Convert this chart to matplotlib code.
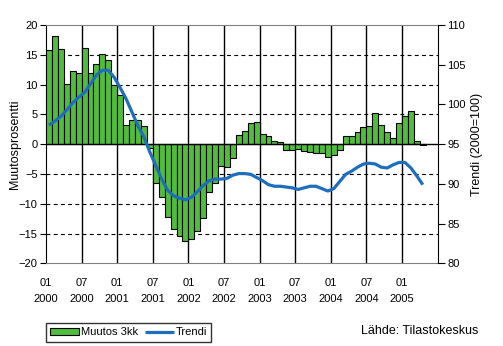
import matplotlib
matplotlib.use("Agg")
import matplotlib.pyplot as plt
import numpy as np

plt.rcParams['font.family'] = ['Liberation Sans', 'DejaVu Sans']

# monthly data 2000-01 .. 2005-04
muutos = [15.8, 18.2, 15.9, 10.1, 12.3, 11.9, 16.1, 11.9, 13.4, 15.1, 14.1, 9.9,
          8.3, 3.3, 4.1, 4.1, 3.1, -0.7, -6.5, -8.9, -12.3, -14.2, -15.4, -16.2,
          -15.9, -14.5, -12.4, -8.0, -6.6, -3.6, -3.8, -2.3, 1.6, 2.2, 3.5, 3.8,
          1.7, 1.4, 0.5, 0.3, -1.0, -1.0, -0.8, -1.2, -1.3, -1.5, -1.5, -2.2,
          -1.8, -1.0, 1.3, 1.3, 2.1, 2.8, 3.1, 5.3, 3.3, 2.0, 1.1, 3.5,
          4.7, 5.5, 0.5, -0.2]
trendi = [97.4, 97.9, 98.5, 99.3, 100.2, 100.9, 101.5, 102.6, 103.7, 104.3, 104.3, 103.4,
          102.1, 100.7, 99.0, 97.3, 95.9, 94.0, 92.3, 90.6, 89.2, 88.5, 88.2, 88.0,
          88.3, 89.0, 89.8, 90.4, 90.6, 90.6, 90.7, 91.1, 91.3, 91.3, 91.2, 90.8,
          90.4, 89.9, 89.7, 89.7, 89.6, 89.5, 89.3, 89.5, 89.7, 89.7, 89.4, 89.1,
          89.4, 90.3, 91.2, 91.6, 92.1, 92.5, 92.6, 92.5, 92.1, 92.0, 92.4, 92.7,
          92.7, 92.0, 91.0, 89.9]
tick_labels = ["01\n2000", "07\n2000", "01\n2001", "07\n2001", "01\n2002", "07\n2002",
               "01\n2003", "07\n2003", "01\n2004", "07\n2004", "01\n2005"]
n_months = 66

green = '#50BE3C'
blue = '#1E6EBE'

fig = plt.figure(figsize=(5.03, 3.46), dpi=100)
ax = fig.add_axes([0.0915, 0.239, 0.7785, 0.6887])
ax.set_axisbelow(True)

x = np.arange(len(muutos)) + 0.5
bars = ax.bar(x, muutos, width=1.0, color=green, edgecolor='black', linewidth=0.8, zorder=3)

ax.set_xlim(0, n_months)
ax.set_ylim(-20, 20)
ax.set_yticks(np.arange(-20, 21, 5))
ax.set_xticks(np.arange(0, len(tick_labels) * 6, 6))
ax.set_xticklabels(tick_labels, fontsize=8, linespacing=1.75)
ax.tick_params(axis='x', length=0, pad=10.5)
ax.tick_params(axis='y', direction='out', length=4, labelsize=8, pad=2)

# grid: solid verticals, dashed horizontals, solid zero line
for t in ax.get_xticks()[1:]:
    ax.axvline(t, color='black', lw=1.0, zorder=1)
for v in [-15, -10, -5, 5, 10, 15]:
    ax.axhline(v, color='black', lw=0.8, ls=(0, (3.5, 3)), zorder=1)
ax.axhline(0, color='black', lw=1.0, zorder=4)

ax.spines['top'].set_color('#808080')
ax.spines['bottom'].set_color('#808080')
ax.spines['right'].set_visible(False)
ax.set_ylabel('Muutosprosentti', fontsize=9)
ax.yaxis.set_label_coords(-0.064, 0.5)

ax2 = ax.twinx()
line, = ax2.plot(x, trendi, color=blue, lw=2.3, zorder=5, solid_capstyle='butt')
ax2.set_ylim(80, 110)
ax2.set_yticks(np.arange(80, 111, 5))
ax2.tick_params(axis='y', direction='out', length=5, labelsize=8, pad=2)
ax2.spines['top'].set_visible(False)
ax2.spines['bottom'].set_visible(False)
ax2.spines['left'].set_visible(False)
ax2.set_ylabel('Trendi (2000=100)', fontsize=9, labelpad=4)

leg = fig.legend([bars, line], ['Muutos 3kk', 'Trendi'], ncol=2, loc='lower left',
                 bbox_to_anchor=(0.0915, 0.012), fontsize=8, frameon=True, fancybox=False,
                 edgecolor='black', handlelength=2.6, handleheight=0.5, handletextpad=0.15,
                 columnspacing=0.6, borderpad=0.4, borderaxespad=0)
leg.get_frame().set_linewidth(1.0)

fig.text(0.952, 0.043, 'Lähde: Tilastokeskus', fontsize=9, ha='right', va='center')

fig.savefig('out.png', dpi=100)
